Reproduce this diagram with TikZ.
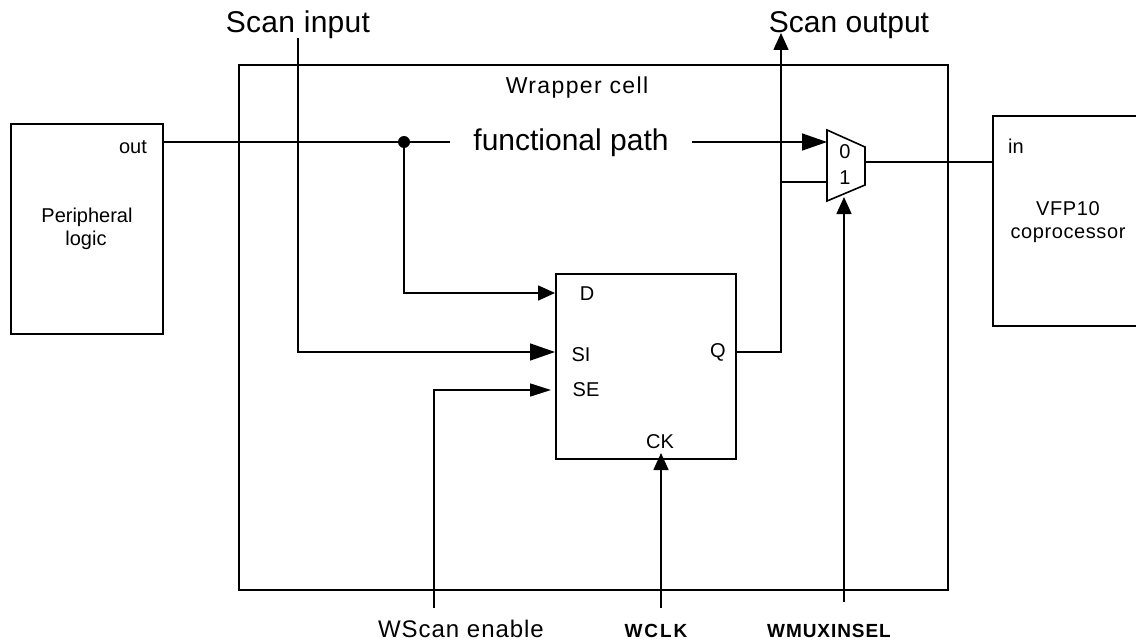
\documentclass[tikz,border=0pt]{standalone}
\usepackage{fontspec}
\setmainfont{Liberation Sans}
\usetikzlibrary{arrows.meta}

\begin{document}
\begin{tikzpicture}[x=1pt,y=-1pt,line width=1.6pt,
    wire/.style={draw},
    arrowwire/.style={draw,-{Triangle[length=17pt,width=15pt]}},
    midarrowwire/.style={draw,-{Triangle[length=21pt,width=13pt]}},
    bigarrowwire/.style={draw,-{Triangle[length=25pt,width=17pt]}}]

        \useasboundingbox (0,0) rectangle (1136,642);

        \begin{scope}[every node/.style={rectangle,draw,anchor=north west,inner sep=0pt}]
          \node[minimum width=152pt,minimum height=210pt] (periph)  at (10,123)  {};
          \node[minimum width=709pt,minimum height=525pt] (wrapper) at (238,64)  {};
          \node[minimum width=180pt,minimum height=185pt] (ff)      at (555,273) {};
          \node[minimum width=150pt,minimum height=210pt] (vfp)     at (992,115) {};
        \end{scope}

        \coordinate (muxa) at (827,130);
        \coordinate (muxb) at (865,147);
        \coordinate (muxc) at (865,185);
        \coordinate (muxd) at (827,201);
        \draw (muxa) -- (muxb) -- (muxc) -- (muxd) -- cycle;

        \begin{scope}[every node/.style={inner sep=0pt,anchor=base,font=\fontsize{20}{24}\selectfont}]
          \node (txtout)    at (133,153) {out};
          \node (txtperiph) at (87,222)  {Peripheral};
          \node (txtlogic)  at (86,245)  {logic};
          \node (txtin)     at (1016,153) {in};
          \node (txtvfp)    at (1068,215) {\addfontfeatures{LetterSpace=3}VFP10};
          \node (txtcopro)  at (1068,238) {\addfontfeatures{LetterSpace=3}coprocessor};
          \node (txtwrap)   at (577,94)  {\fontsize{23}{26}\selectfont\addfontfeatures{LetterSpace=6}Wrapper cell};
          \node (txtd)      at (587,300) {D};
          \node (txtsi)     at (581,361) {SI};
          \node (txtse)     at (586,396) {SE};
          \node (txtq)      at (718,357) {Q};
          \node (txtck)     at (660,448) {CK};
          \node (txtzero)   at (845,158) {0};
          \node (txtone)    at (845,184) {1};
        \end{scope}

        \begin{scope}[every node/.style={inner sep=0pt,anchor=base,font=\fontsize{30}{34}\selectfont}]
          \node (txtscanin)  at (298,33)  {\addfontfeatures{LetterSpace=1}Scan input};
          \node (txtscanout) at (849,33)  {Scan output};
          \node (txtpath)    at (571,150) {functional path};
        \end{scope}

        \node[inner sep=0pt,anchor=base,font=\fontsize{24}{28}\selectfont] (txtenable) at (461,637) {\addfontfeatures{LetterSpace=4}WScan enable};
        \begin{scope}[every node/.style={inner sep=0pt,anchor=base,font=\fontsize{19}{22}\selectfont\bfseries}]
          \node (txtclk) at (656,637) {\addfontfeatures{LetterSpace=10}WCLK};
          \node (txtsel) at (829,637) {\addfontfeatures{LetterSpace=5}WMUXINSEL};
        \end{scope}

        \coordinate (junction) at (404,142);
        \coordinate (pathleft) at (450,142);
        \coordinate (pathright) at (692,142);
        \coordinate (mux0) at (827,142);
        \coordinate (mux1) at (827,182);
        \coordinate (muxout) at (865,162);
        \coordinate (vfpin) at (992,162);
        \coordinate (periphout) at (162,142);
        \coordinate (ffd) at (555,293);
        \coordinate (ffsi) at (555,352);
        \coordinate (ffse) at (551,390);
        \coordinate (ffq) at (735,352);
        \coordinate (ffck) at (661,453);
        \coordinate (scanin) at (298,38);
        \coordinate (scanout) at (781,33);
        \coordinate (tap) at (781,182);
        \coordinate (sefree) at (434,608);
        \coordinate (clkfree) at (661,608);
        \coordinate (selfree) at (844,602);
        \coordinate (selend) at (844,197);

        \fill (junction) circle (6pt);
        \path[wire] (periphout) -- (pathleft);
        \path[bigarrowwire] (pathright) -- (mux0);
        \path[wire] (muxout) -- (vfpin);
        \path[arrowwire] (junction) |- (ffd);
        \path[bigarrowwire] (scanin) |- (ffsi);
        \path[midarrowwire] (sefree) |- (ffse);
        \path[arrowwire] (ffq) -| (scanout);
        \path[wire] (tap) -- (mux1);
        \path[arrowwire] (clkfree) -- (ffck);
        \path[arrowwire] (selfree) -- (selend);

      \end{tikzpicture}
\end{document}
